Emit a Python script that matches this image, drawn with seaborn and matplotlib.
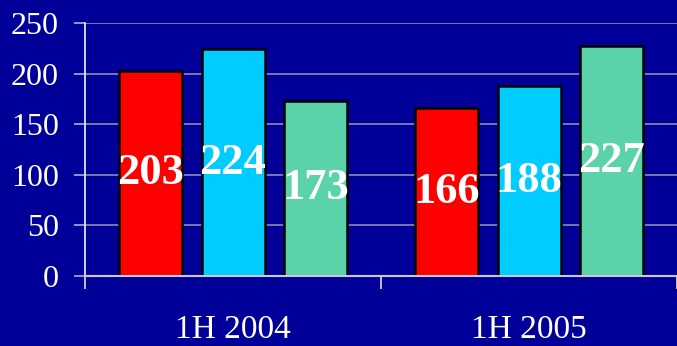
import matplotlib
matplotlib.use("Agg")
import matplotlib.pyplot as plt
import seaborn as sns
import pandas as pd
from matplotlib.ticker import FixedLocator

# Half-year figures, three series per period
periods = ["1H 2004", "1H 2005"]
series = ["S1", "S2", "S3"]
values_2004 = [203, 224, 173]
values_2005 = [166, 188, 227]
y_ticks = [0, 50, 100, 150, 200, 250]

bar_colors = ["#FF0000", "#00CCFF", "#5BD3AA"]
navy = "#000099"

rows = []
for period, vals in zip(periods, [values_2004, values_2005]):
    for s, v in zip(series, vals):
        rows.append({"period": period, "series": s, "value": v})
df = pd.DataFrame(rows)

sns.set_theme(style="dark")
plt.rcParams["font.family"] = ["Liberation Serif", "DejaVu Serif"]

fig = plt.figure(figsize=(6.77, 3.46), dpi=100, facecolor=navy)
ax = fig.add_axes([0.1256, 0.2023, 0.8744, 0.7312])
ax.set_facecolor(navy)

sns.barplot(data=df, x="period", y="value", hue="series", order=periods,
            hue_order=series, palette=bar_colors, width=0.84, gap=0.24,
            edgecolor="black", linewidth=1.8, saturation=1, legend=False,
            errorbar=None, ax=ax)

for cont in ax.containers:
    ax.bar_label(cont, fmt="%d", label_type="center", color="white",
                 fontsize=32, fontweight="bold")

ax.set_ylim(0, 250)
ax.set_xlim(-0.5, 1.5)
ax.set_yticks(y_ticks)
ax.set_yticklabels([str(t) for t in y_ticks])
ax.set_xlabel("")
ax.set_ylabel("")

ax.set_axisbelow(True)
ax.yaxis.grid(True, color="#8080B0", linewidth=1.3)
ax.xaxis.grid(False)

for side in ["top", "right"]:
    ax.spines[side].set_visible(False)
ax.spines["left"].set_color("#E0E0E8")
ax.spines["left"].set_linewidth(1.3)
ax.spines["bottom"].set_color("#C8C8D0")
ax.spines["bottom"].set_linewidth(1.5)

ax.tick_params(axis="y", which="major", left=True, length=8, width=1.2,
               color="#B0B0C8", pad=11, labelsize=23, labelcolor="white")
ax.xaxis.set_minor_locator(FixedLocator([-0.5, 0.5, 1.5]))
ax.tick_params(axis="x", which="minor", bottom=True, length=9, width=1.2,
               color="#E0E0E8")
ax.tick_params(axis="x", which="major", bottom=False, length=0, pad=28,
               labelsize=24, labelcolor="white")

fig.savefig("out.png", dpi=100, facecolor=navy)
